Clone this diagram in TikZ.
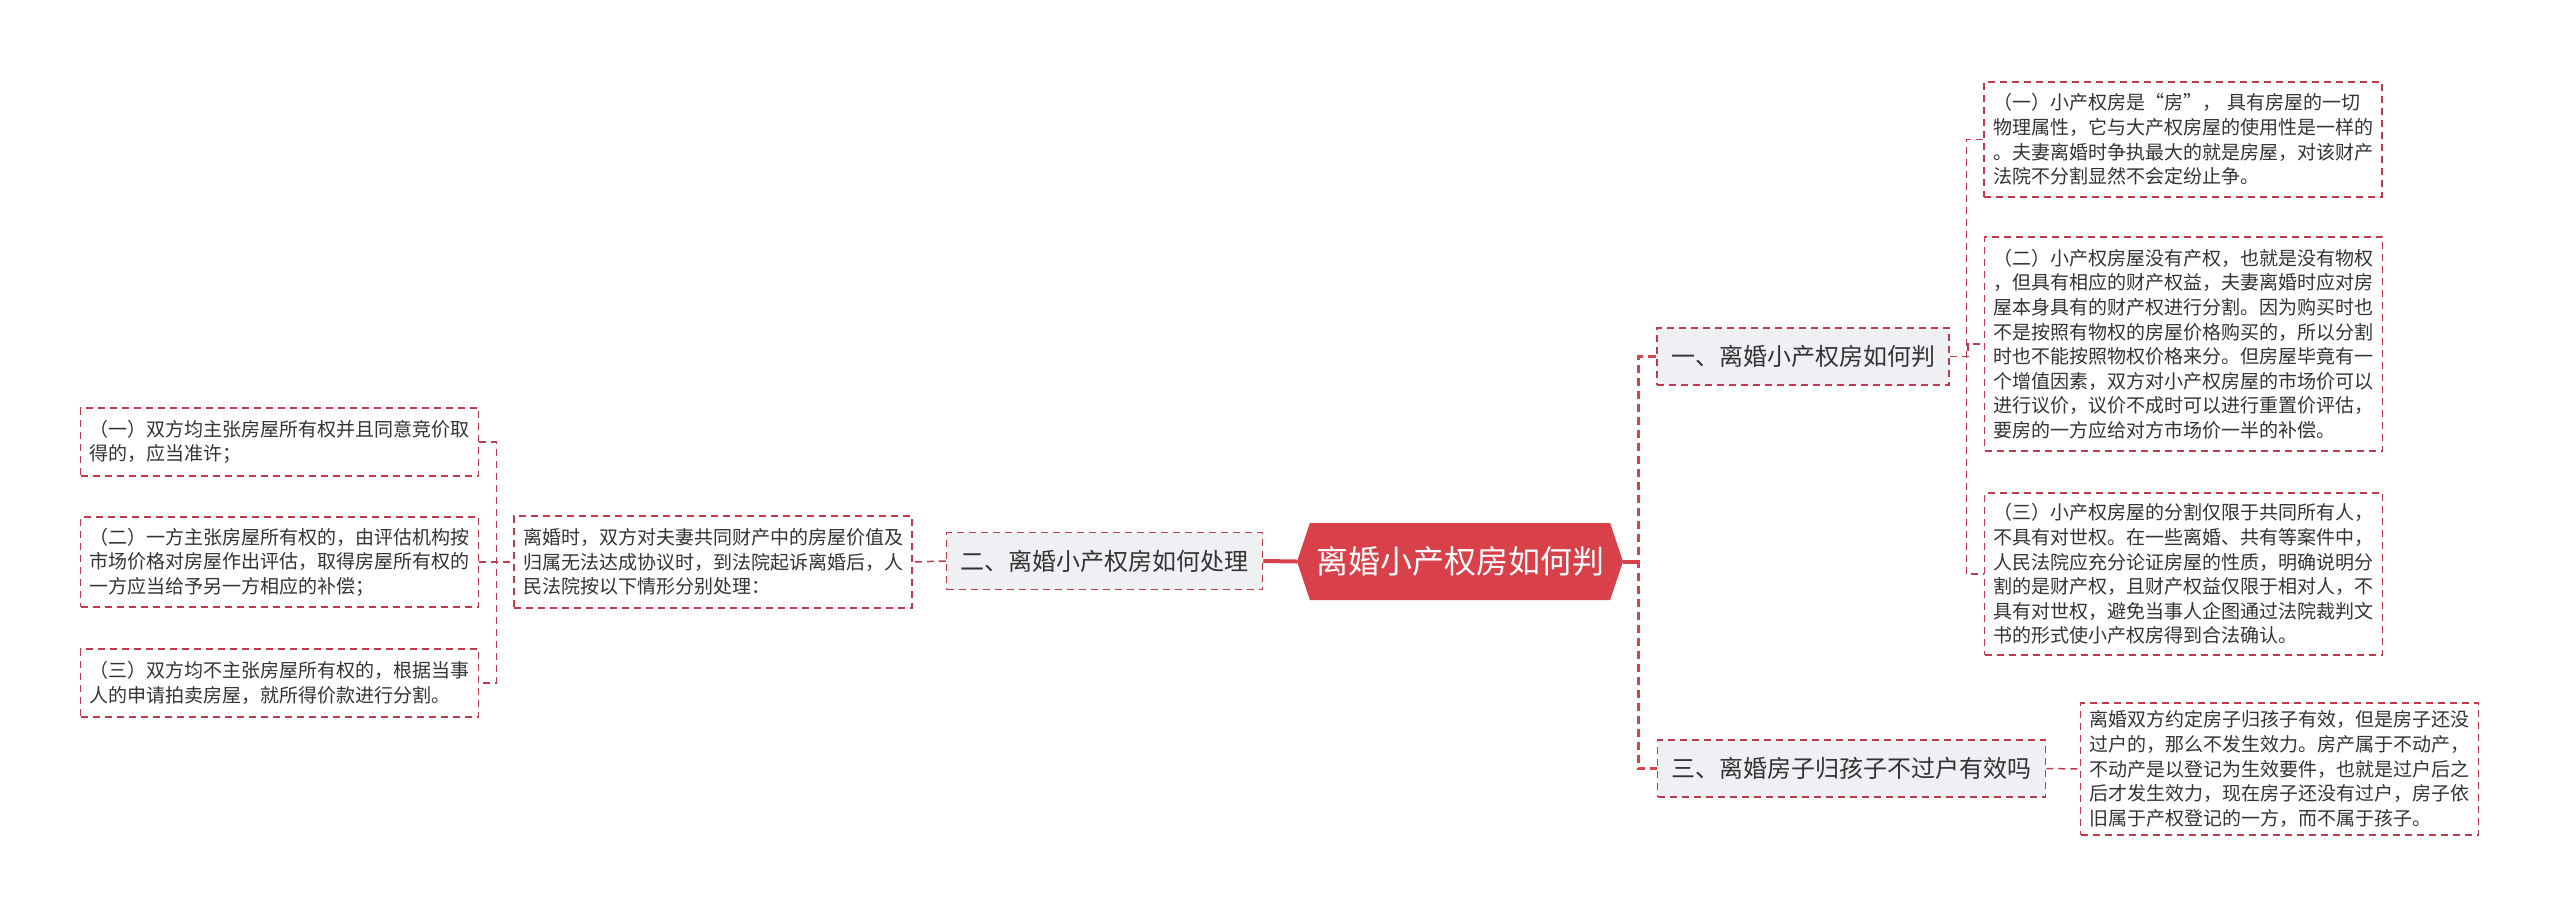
\documentclass[tikz,border=0pt]{standalone}
\usepackage{fontspec}
\newfontfamily\cjk{Noto Sans CJK SC}
\usetikzlibrary{shapes.symbols}
\definecolor{mainred}{HTML}{D8404A}
\definecolor{dashc}{HTML}{BF3A4C}
\definecolor{topicfill}{HTML}{EEF0F4}
\definecolor{textc}{HTML}{333333}
\tikzset{
  leaf/.style={draw=dashc, line width=1.5pt, dash pattern=on 7pt off 5pt, fill=white,
    text=textc, font=\cjk\fontsize{19}{24.6}\selectfont, align=left,
    text width=380pt, inner xsep=9pt, inner ysep=0pt},
  topic/.style={draw=dashc, line width=1.5pt, dash pattern=on 7pt off 5pt, fill=topicfill,
    text=textc, font=\cjk\fontsize{24}{28}\selectfont, inner xsep=14pt, inner ysep=0pt,
    minimum height=57pt},
  center/.style={shape=signal, signal to=west and east, signal pointer angle=143,
    fill=mainred, text=white, font=\cjk\fontsize{32}{36}\selectfont,
    minimum width=326pt, minimum height=77pt, inner sep=0pt},
  thinlink/.style={draw=dashc, line width=1.5pt, dash pattern=on 7pt off 5pt},
  thicklink/.style={draw=mainred, line width=3pt, dash pattern=on 8pt off 5pt},
  solidlink/.style={draw=mainred, line width=4pt},
}
\begin{document}
\begin{tikzpicture}[x=1pt, y=-1pt]
\useasboundingbox (0,0) rectangle (2560,919);
\node[center] (c) at (1460,561.5) {离婚小产权房如何判};
\node[topic] (n2) at (1104.5,561) {二、离婚小产权房如何处理};
\node[topic] (n1) at (1803,356.5) {一、离婚小产权房如何判};
\node[topic] (n3) at (1851.5,768.5) {三、离婚房子归孩子不过户有效吗};

\node[leaf, minimum height=115pt] (r1) at (2183,139.5) {（一）小产权房是“房”， 具有房屋的一切\\物理属性，它与大产权房屋的使用性是一样的\\。夫妻离婚时争执最大的就是房屋，对该财产\\法院不分割显然不会定纷止争。};
\node[leaf, minimum height=214pt] (r2) at (2183.5,344) {（二）小产权房屋没有产权，也就是没有物权\\，但具有相应的财产权益，夫妻离婚时应对房\\屋本身具有的财产权进行分割。因为购买时也\\不是按照有物权的房屋价格购买的，所以分割\\时也不能按照物权价格来分。但房屋毕竟有一\\个增值因素，双方对小产权房屋的市场价可以\\进行议价，议价不成时可以进行重置价评估，\\要房的一方应给对方市场价一半的补偿。};
\node[leaf, minimum height=162pt] (r3) at (2183.5,574) {（三）小产权房屋的分割仅限于共同所有人，\\不具有对世权。在一些离婚、共有等案件中，\\人民法院应充分论证房屋的性质，明确说明分\\割的是财产权，且财产权益仅限于相对人，不\\具有对世权，避免当事人企图通过法院裁判文\\书的形式使小产权房得到合法确认。};
\node[leaf, minimum height=132pt] (r4) at (2279.5,769) {离婚双方约定房子归孩子有效，但是房子还没\\过户的，那么不发生效力。房产属于不动产，\\不动产是以登记为生效要件，也就是过户后之\\后才发生效力，现在房子还没有过户，房子依\\旧属于产权登记的一方，而不属于孩子。};

\node[leaf, minimum height=92pt] (m) at (713,562) {离婚时，双方对夫妻共同财产中的房屋价值及\\归属无法达成协议时，到法院起诉离婚后，人\\民法院按以下情形分别处理：};
\node[leaf, minimum height=68pt] (l1) at (279.5,442) {（一）双方均主张房屋所有权并且同意竞价取\\得的，应当准许；};
\node[leaf, minimum height=90pt] (l2) at (279.5,562) {（二）一方主张房屋所有权的，由评估机构按\\市场价格对房屋作出评估，取得房屋所有权的\\一方应当给予另一方相应的补偿；};
\node[leaf, minimum height=68pt] (l3) at (279.5,683) {（三）双方均不主张房屋所有权的，根据当事\\人的申请拍卖房屋，就所得价款进行分割。};

\draw[solidlink] (c.west) -- (n2.east);
\draw[solidlink] (c.east) -- ++(17,0) coordinate (tr);
\draw[thicklink] (n1.west) -- ++(-18,0) |- (n3.west);
\draw[thinlink] (n2.west) -- (m.east);
\draw[thinlink] (l1.east) -- ++(17,0) |- (l3.east);
\draw[thinlink] (l2.east) -- (m.west);
\draw[thinlink] (r1.west) -- ++(-17,0) |- (r3.west);
\draw[thinlink] (n1.east) -- ++(18,0) |- (r2.west);
\draw[thinlink] (n3.east) -- (r4.west);
\end{tikzpicture}
\end{document}
